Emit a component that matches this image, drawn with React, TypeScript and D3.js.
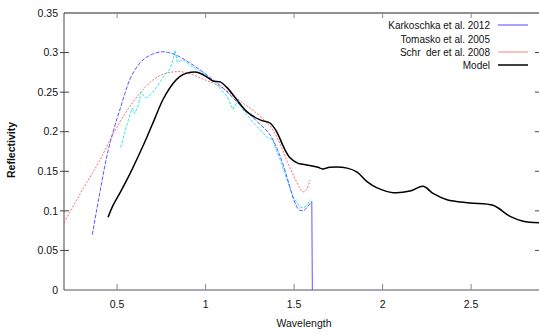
import React from "react";
import * as d3 from "d3";

// Karkoschka et al. 2012 (blue)
const karkWl = [0.36, 0.40, 0.45, 0.48, 0.52, 0.57, 0.63, 0.70, 0.76, 0.82, 0.91, 1.0, 1.05, 1.1, 1.18, 1.29, 1.38, 1.44, 1.47, 1.5, 1.53, 1.55, 1.575, 1.6];
const karkR = [0.07, 0.12, 0.177, 0.202, 0.231, 0.265, 0.287, 0.298, 0.301, 0.298, 0.287, 0.273, 0.264, 0.255, 0.237, 0.213, 0.19, 0.157, 0.135, 0.113, 0.101, 0.10, 0.105, 0.112];
// Karkoschka cutoff drop
const karkDropWl = [1.6, 1.603];
const karkDropR = [0.112, 0.0];

// Tomasko et al. 2005 (cyan)
const tomWl = [0.52, 0.545, 0.556, 0.585, 0.60, 0.62, 0.635, 0.66, 0.675, 0.70, 0.726, 0.76, 0.80, 0.815, 0.828, 0.84, 0.873, 0.91, 0.96, 1.0, 1.05, 1.08, 1.12, 1.155, 1.178, 1.22, 1.268, 1.347, 1.38, 1.40, 1.42, 1.46, 1.494, 1.534, 1.555, 1.573, 1.59];
const tomR = [0.18, 0.2, 0.209, 0.23, 0.223, 0.234, 0.25, 0.243, 0.244, 0.25, 0.257, 0.269, 0.28, 0.29, 0.303, 0.288, 0.291, 0.284, 0.278, 0.272, 0.262, 0.255, 0.245, 0.228, 0.238, 0.225, 0.212, 0.193, 0.19, 0.176, 0.165, 0.139, 0.118, 0.104, 0.104, 0.107, 0.114];

// Schröder et al. 2008 (red)
const schWl = [0.2, 0.3, 0.4, 0.48, 0.56, 0.63, 0.70, 0.78, 0.85, 0.9, 0.97, 1.08, 1.2, 1.31, 1.38, 1.42, 1.46, 1.5, 1.53, 1.55, 1.57, 1.59];
const schR = [0.085, 0.125, 0.163, 0.198, 0.228, 0.249, 0.265, 0.274, 0.276, 0.274, 0.268, 0.257, 0.238, 0.219, 0.202, 0.185, 0.163, 0.143, 0.13, 0.124, 0.127, 0.139];

// Model (black)
const modWl = [0.449, 0.477, 0.517, 0.573, 0.63, 0.67, 0.71, 0.76, 0.816, 0.856, 0.895, 0.952, 1.008, 1.042, 1.082, 1.12, 1.178, 1.234, 1.308, 1.364, 1.404, 1.438, 1.477, 1.523, 1.55, 1.635, 1.66, 1.703, 1.80, 1.856, 1.912, 1.969, 2.06, 2.155, 2.23, 2.285, 2.364, 2.494, 2.624, 2.72, 2.794, 2.89];
const modR = [0.092, 0.107, 0.123, 0.147, 0.174, 0.194, 0.215, 0.241, 0.261, 0.27, 0.274, 0.275, 0.269, 0.264, 0.263, 0.256, 0.24, 0.225, 0.215, 0.211, 0.199, 0.182, 0.167, 0.16, 0.159, 0.155, 0.153, 0.155, 0.154, 0.149, 0.137, 0.129, 0.123, 0.125, 0.131, 0.122, 0.114, 0.110, 0.107, 0.093, 0.087, 0.085];

const xTicks = [0.5, 1, 1.5, 2, 2.5];
const xTickLabels = ["0.5", "1", "1.5", "2", "2.5"];
const yTicks = [0, 0.05, 0.1, 0.15, 0.2, 0.25, 0.3, 0.35];
const yTickLabels = ["0", "0.05", "0.1", "0.15", "0.2", "0.25", "0.3", "0.35"];

const legendLabels = ["Karkoschka et al. 2012", "Tomasko et al. 2005", "Schr  der et al. 2008", "Model"];

export default function App() {
  const W = 539, H = 335;
  const left = 64, right = 540, top = 13, bottom = 290;
  const x = d3.scaleLinear().domain([0.2, 0.2 + (right - left) / 177]).range([left, right]);
  const y = d3.scaleLinear().domain([0, 0.35]).range([bottom, top]);

  const mk = (ws: number[], rs: number[], curve: any) =>
    d3.line<number>().x((_, i) => x(ws[i])).y((_, i) => y(rs[i])).curve(curve)(ws as any) || "";

  const karkPath = mk(karkWl, karkR, d3.curveMonotoneX);
  const karkDropPath = mk(karkDropWl, karkDropR, d3.curveLinear);
  const tomPath = mk(tomWl, tomR, d3.curveLinear);
  const schPath = mk(schWl, schR, d3.curveMonotoneX);
  const modPath = mk(modWl, modR, d3.curveCatmullRom.alpha(0.5));

  const font = "'Liberation Sans', Arial, sans-serif";
  const axisColor = "#444";

  const legendX = 490;
  const legendYs = [25, 39, 52, 65];
  const legendStyles = [
    { stroke: "#4a4aff", width: 1 },
    null,
    { stroke: "#ff8080", width: 1 },
    { stroke: "#000", width: 1.5 },
  ];

  return (
    <svg width={W} height={H} style={{ position: "absolute", left: 0, top: 0, background: "#fff" }}>
      <defs>
        <clipPath id="plotclip">
          <rect x={left} y={top} width={right - left} height={bottom - top} />
        </clipPath>
      </defs>
      <rect x={0} y={0} width={W} height={H} fill="#fff" />
      {/* frame */}
      <line x1={left} x2={left} y1={top} y2={bottom} stroke={axisColor} strokeWidth={1} />
      <line x1={left} x2={right} y1={bottom} y2={bottom} stroke="#556" strokeWidth={1} />
      <line x1={left} x2={right} y1={top} y2={top} stroke="#222" strokeWidth={1} />
      <line x1={right} x2={right} y1={top} y2={bottom} stroke="#222" strokeWidth={1} />
      {/* y ticks */}
      {yTicks.map((t, i) => (
        <g key={"y" + i}>
          {i > 0 && i < yTicks.length - 1 && (
            <>
              <line x1={left - 4} x2={left + 5} y1={y(t)} y2={y(t)} stroke={axisColor} />
              <line x1={right - 5} x2={right} y1={y(t)} y2={y(t)} stroke={axisColor} />
            </>
          )}
          <text x={left - 6} y={y(t)} dy="0.35em" textAnchor="end" fontFamily={font} fontSize={10.5} fill="#111">
            {yTickLabels[i]}
          </text>
        </g>
      ))}
      {/* x ticks */}
      {xTicks.map((t, i) => (
        <g key={"x" + i}>
          <line x1={x(t)} x2={x(t)} y1={bottom} y2={bottom - 6} stroke="#888" />
          <line x1={x(t)} x2={x(t)} y1={top} y2={top + 5} stroke="#888" />
          <text x={x(t)} y={bottom + 18} textAnchor="middle" fontFamily={font} fontSize={10.5} fill="#111">
            {xTickLabels[i]}
          </text>
        </g>
      ))}
      {/* axis titles */}
      <text x={304} y={327} textAnchor="middle" fontFamily={font} fontSize={10.5} fill="#111">Wavelength</text>
      <text transform="translate(15,150) rotate(-90)" textAnchor="middle" fontFamily={font} fontSize={10.5} fontWeight="bold" fill="#111">Reflectivity</text>
      {/* series */}
      <g clipPath="url(#plotclip)" fill="none">
        <path d={schPath} stroke="#ff5050" strokeWidth={1} strokeDasharray="2,1.5" opacity={0.85} />
        <path d={tomPath} stroke="#30e8f0" strokeWidth={1} strokeDasharray="3,1.5" />
        <path d={karkPath} stroke="#3c3cff" strokeWidth={1} strokeDasharray="4,1.5" opacity={0.85} />
        <path d={karkDropPath} stroke="#3c3cff" strokeWidth={1} opacity={0.85} />
        <path d={modPath} stroke="#000" strokeWidth={1.5} />
      </g>
      {/* legend */}
      {legendLabels.map((l, i) => (
        <g key={"l" + i}>
          <text x={legendX} y={legendYs[i]} dy="0.35em" textAnchor="end" fontFamily={font} fontSize={10} fill="#111" style={{ whiteSpace: "pre" }}>
            {l}
          </text>
          {legendStyles[i] && (
            <line x1={498} x2={528} y1={legendYs[i]} y2={legendYs[i]} stroke={legendStyles[i]!.stroke} strokeWidth={legendStyles[i]!.width} />
          )}
        </g>
      ))}
    </svg>
  );
}
